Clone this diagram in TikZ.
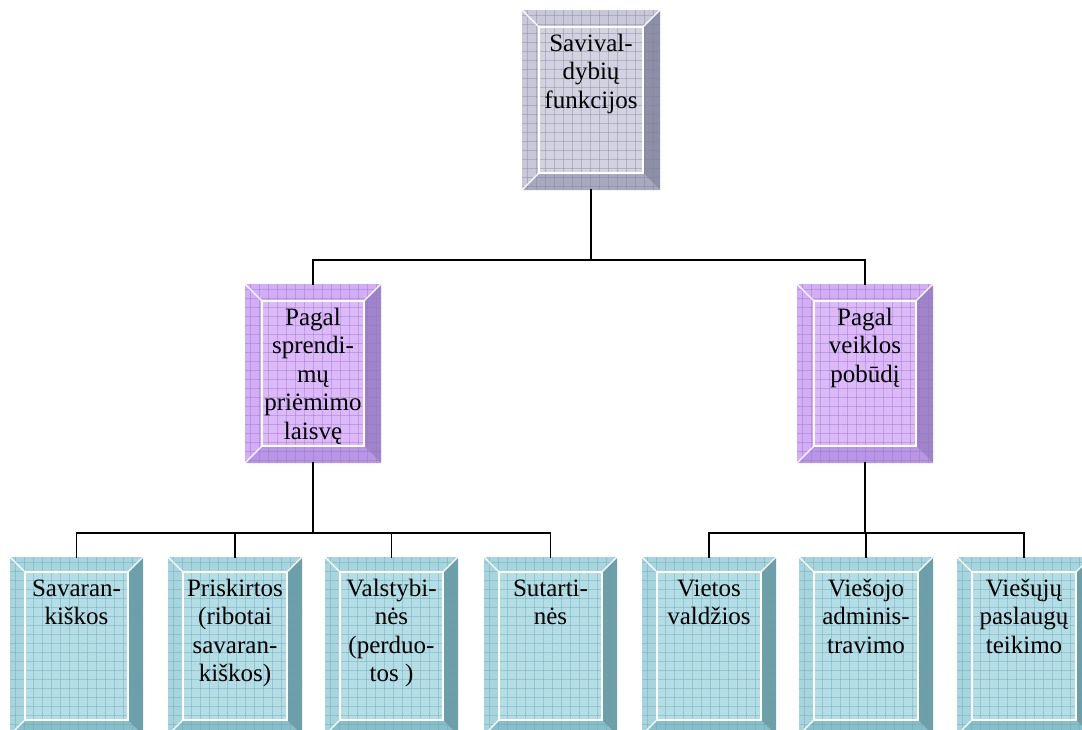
\documentclass[tikz,border=0pt]{standalone}
\usepackage{fontspec}
\setmainfont{Liberation Serif}
\definecolor{grayface}{HTML}{D2D2E0}
\definecolor{graylight}{HTML}{C8C8D8}
\definecolor{graybot}{HTML}{A8A8BE}
\definecolor{grayright}{HTML}{8E8EA6}
\definecolor{grayline}{HTML}{8080A0}
\definecolor{purface}{HTML}{DCBAF8}
\definecolor{purlight}{HTML}{D2AEF4}
\definecolor{purbot}{HTML}{B896E4}
\definecolor{purright}{HTML}{A084CA}
\definecolor{purline}{HTML}{9A6CD0}
\definecolor{cyaface}{HTML}{B4DDE5}
\definecolor{cyalight}{HTML}{A8D4DD}
\definecolor{cyabot}{HTML}{88BEC8}
\definecolor{cyaright}{HTML}{6E9EA8}
\definecolor{cyaline}{HTML}{5FA8B6}
\tikzset{
  boxnode/.style={draw=none, inner sep=0pt, rectangle},
  boxtext/.style={inner sep=0pt, align=center, font=\fontsize{25}{28.5}\selectfont, anchor=north},
  hilite/.style={white, line width=1.3pt},
  conn/.style={black, line width=1.8pt, line cap=rect}
}
% #1 name, #2 x0, #3 y0, #4 x1, #5 y1, #6 bevel, #7 palette, #8 text
\newcommand\bevbox[8]{%
  \node[boxnode, minimum width={#4-#2}, minimum height={#5-#3}] (#1) at ({(#2+#4)/2},{(#3+#5)/2}) {};
  \fill[#7light] (#2,#3) -- (#4,#3) -- ({#4-#6},{#3+#6}) -- ({#2+#6},{#3+#6}) -- cycle;
  \fill[#7light] (#2,#3) -- ({#2+#6},{#3+#6}) -- ({#2+#6},{#5-#6}) -- (#2,#5) -- cycle;
  \fill[#7bot] (#2,#5) -- ({#2+#6},{#5-#6}) -- ({#4-#6},{#5-#6}) -- (#4,#5) -- cycle;
  \fill[#7right] (#4,#3) -- (#4,#5) -- ({#4-#6},{#5-#6}) -- ({#4-#6},{#3+#6}) -- cycle;
  \fill[#7face] ({#2+#6},{#3+#6}) rectangle ({#4-#6},{#5-#6});
  \begin{scope}
    \clip (#2,#3) rectangle (#4,#5);
    \foreach \i in {1,...,21} {
      \draw[#7line, opacity=0.4, line width=0.7pt] ({#2+9*\i-4},#3) -- ({#2+9*\i-4},#5);
      \draw[#7line, opacity=0.4, line width=0.7pt] (#2,{#3+9*\i-4}) -- (#4,{#3+9*\i-4});
    }
  \end{scope}
  \draw[hilite] ({#2+#6},{#3+#6}) rectangle ({#4-#6},{#5-#6});
  \draw[hilite] (#2,#3) -- ({#2+#6},{#3+#6});
  \draw[hilite] (#4,#3) -- ({#4-#6},{#3+#6});
  \draw[hilite] (#2,#5) -- ({#2+#6},{#5-#6});
  \node[boxtext] (#1t) at ({(#2+#4)/2},{#3+#6+6}) {\rule{0pt}{18pt}#8};
}
\begin{document}
\begin{tikzpicture}[x=1pt,y=-1pt]
\useasboundingbox (0,0) rectangle (1082,729);
\bevbox{top}{522}{10}{660}{190}{17}{gray}{Savival-\\dybių\\funkcijos}
\bevbox{pl}{245}{284}{381}{463}{17}{pur}{Pagal\\sprendi-\\mų\\priėmimo\\laisvę}
\bevbox{pr}{797}{284}{933}{463}{17}{pur}{Pagal\\veiklos\\pobūdį}
\bevbox{b1}{10}{557}{143}{735}{15}{cya}{Savaran-\\kiškos}
\bevbox{b2}{168}{557}{302}{735}{15}{cya}{Priskirtos\\(ribotai\\savaran-\\kiškos)}
\bevbox{b3}{325}{557}{458}{735}{15}{cya}{Valstybi-\\nės\\(perduo-\\tos )}
\bevbox{b4}{484}{557}{617}{735}{15}{cya}{Sutarti-\\nės}
\bevbox{b5}{642}{557}{776}{735}{15}{cya}{Vietos\\valdžios}
\bevbox{b6}{799}{557}{933}{735}{15}{cya}{Viešojo\\adminis-\\travimo}
\bevbox{b7}{957}{557}{1091}{735}{15}{cya}{Viešųjų\\paslaugų\\teikimo}
% connectors
\draw[conn] (top.south) -- ++(0,70) -| (pl.north);
\draw[conn] (top.south) ++(0,70) -| (pr.north);
\draw[conn] (pl.south) -- ++(0,70) -| (b1.north);
\draw[conn] (pl.south) ++(0,70) -| (b2.north);
\draw[conn] (pl.south) ++(0,70) -| (b3.north);
\draw[conn] (pl.south) ++(0,70) -| (b4.north);
\draw[conn] (pr.south) -- ++(0,70) -| (b5.north);
\draw[conn] (pr.south) ++(0,70) -| (b6.north);
\draw[conn] (pr.south) ++(0,70) -| (b7.north);
\end{tikzpicture}
\end{document}
